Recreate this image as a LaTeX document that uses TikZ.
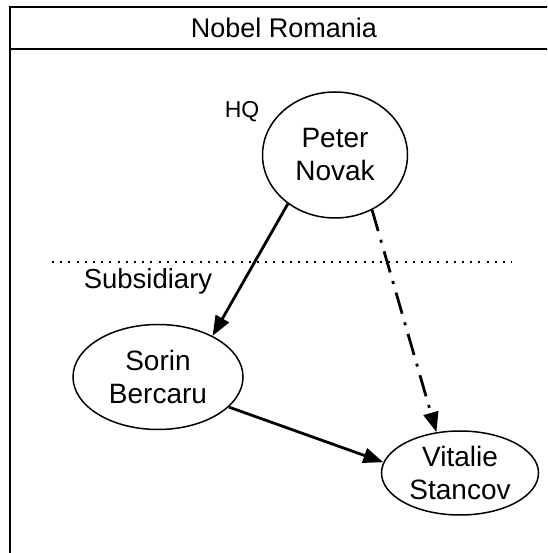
\documentclass[tikz,border=0pt]{standalone}
\usepackage{fontspec}
\setmainfont{Liberation Sans}
\usepackage{tikz}
\usetikzlibrary{shapes.geometric}
\usetikzlibrary{arrows.meta}
\tikzstyle{person}=[draw, ellipse, line width=1.5pt, inner sep=0pt, align=center, font=\fontsize{28}{33}\selectfont]
\tikzstyle{link>}=[line width=2.8pt, -{Triangle[length=20pt,width=15pt]}]
\tikzstyle{dashdot>}=[link>, dash pattern=on 22pt off 9pt on 3pt off 9pt]

\begin{document}
\begin{tikzpicture}[x=1pt,y=1pt]
\useasboundingbox (0,0) rectangle (547,553);
\clip (0,0) rectangle (547,553);
\draw[line width=1.8pt] (10,-5) -- (10,546) -- (560,546);
\draw[line width=1.8pt] (10,504) -- (560,504);
\node[font=\fontsize{27}{32}\selectfont] (title) at (284,525) {Nobel Romania};
\draw[line width=1.5pt, dash pattern=on 2pt off 6.2pt] (52,291) -- (512,291);
\node[font=\fontsize{23}{27}\selectfont] (hq) at (242,441) {HQ};
\node[font=\fontsize{27.5}{32}\selectfont] (sub) at (148,272) {Subsidiary};
\node[person, minimum width=145pt, minimum height=126pt] (pn) at (335,398) {Peter\\Novak};
\node[person, minimum width=170pt, minimum height=105pt] (sb) at (158,176) {Sorin\\Bercaru};
\node[person, minimum width=157pt, minimum height=84pt] (vs) at (460,80) {Vitalie\\Stancov};
\draw[link>] (pn.226) -- (sb.37);
\draw[dashdot>] (pn.304) -- (vs.120);
\draw[link>] (sb.-23) -- (vs.172);
\end{tikzpicture}
\end{document}
